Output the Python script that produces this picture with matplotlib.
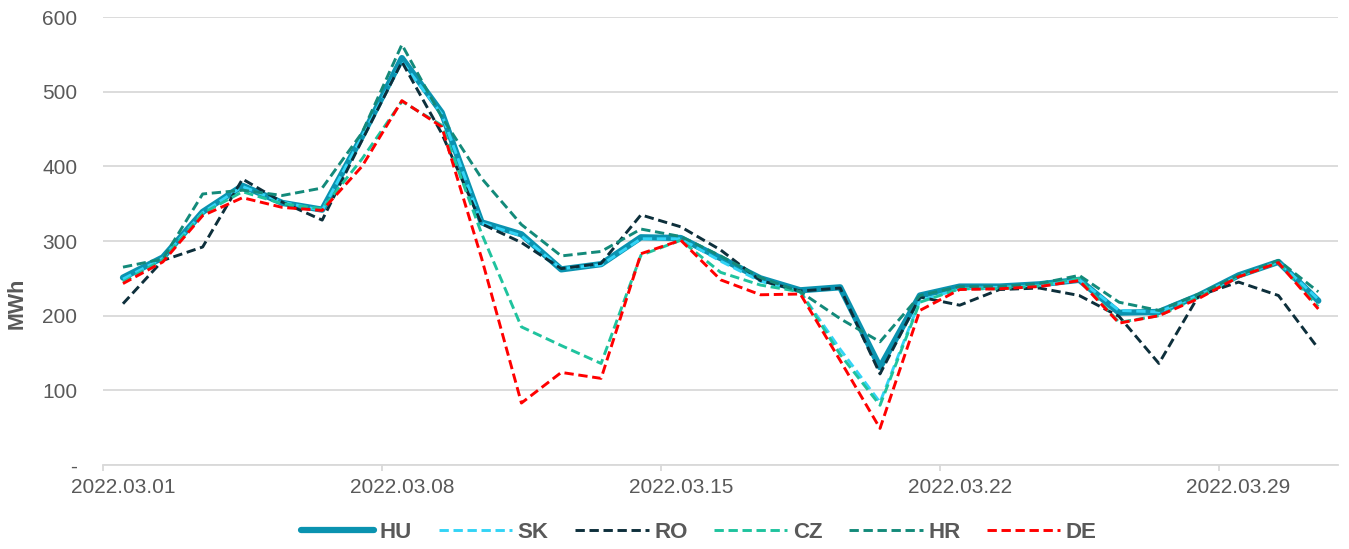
import matplotlib
matplotlib.use("Agg")
import matplotlib.pyplot as plt
import numpy as np

plt.rcParams['font.family'] = ['Liberation Sans', 'DejaVu Sans']

days = [f"2022.03.{d:02d}" for d in range(1, 32)]
tick_labels = ["2022.03.01", "2022.03.08", "2022.03.15", "2022.03.22", "2022.03.29"]

HU = [251, 278, 339, 374, 351, 342, 440, 545, 472, 325, 309, 262, 269, 305, 304, 277,
      250, 234, 238, 131, 227, 239, 239, 242, 248, 204, 205, 227, 254, 272, 220]
SK = [249, 277, 338, 373, 352, 341, 440, 540, 470, 324, 307, 263, 268, 303, 303, 273,
      246, 232, 155, 84, 220, 236, 238, 240, 248, 207, 205, 227, 253, 272, 222]
RO = [216, 274, 292, 383, 352, 328, 435, 540, 444, 323, 298, 263, 270, 335, 319, 288,
      247, 233, 237, 122, 225, 214, 235, 237, 227, 199, 136, 227, 245, 227, 156]
CZ = [245, 275, 337, 366, 350, 343, 410, 487, 455, 310, 185, 160, 136, 281, 301, 258,
      241, 232, 148, 80, 218, 236, 236, 240, 250, 191, 200, 225, 252, 271, 212]
HR = [265, 276, 363, 368, 361, 371, 445, 563, 466, 384, 322, 280, 286, 316, 306, 280,
      251, 232, 196, 165, 227, 239, 239, 243, 254, 218, 207, 229, 254, 274, 232]
DE = [243, 272, 334, 358, 345, 341, 400, 488, 453, 277, 83, 124, 116, 283, 301, 248,
      228, 229, 140, 49, 207, 235, 236, 239, 247, 190, 200, 223, 252, 271, 209]

series = [
    ("HU", HU, "#0A93B0", "-", 4.5),
    ("SK", SK, "#33D4F6", "--", 2.1),
    ("RO", RO, "#0D2F3B", "--", 2.1),
    ("CZ", CZ, "#1FC39E", "--", 2.1),
    ("HR", HR, "#138A7A", "--", 2.1),
    ("DE", DE, "#FF0000", "--", 2.1),
]

fig = plt.figure(figsize=(13.49, 5.49), dpi=100)
ax = fig.add_axes([0.0764, 0.153, 0.9156, 0.816])

x = np.arange(len(days)) + 0.5
for name, vals, col, ls, lw in series:
    if ls == "-":
        ax.plot(x, vals, color=col, lw=lw, ls=ls, label=name, solid_capstyle='round',
                solid_joinstyle='round', zorder=2)
    else:
        ax.plot(x, vals, color=col, lw=lw, ls=(0, (3.2, 1.6)), label=name,
                dash_capstyle='butt', zorder=3)

ax.set_xlim(0, len(days))
ax.set_ylim(0, 600)
ax.set_yticks(range(0, 601, 100))
ax.set_yticklabels(["-"] + [str(v) for v in range(100, 601, 100)])

idx = [days.index(t) for t in tick_labels]
ax.set_xticks(idx)
ax.set_xticklabels([""] * len(idx))
ax.set_xticks([i + 0.5 for i in idx], minor=True)
ax.set_xticklabels(tick_labels, minor=True)

ax.grid(axis='y', color='#D9D9D9', lw=1.3)
ax.set_axisbelow(True)
for s in ['top', 'right', 'left']:
    ax.spines[s].set_visible(False)
ax.spines['bottom'].set_color('#D9D9D9')
ax.spines['bottom'].set_linewidth(1.3)
ax.tick_params(axis='y', length=0, labelsize=15, labelcolor='#595959', pad=18.5)
ax.tick_params(axis='x', which='major', length=4.5, color='#D9D9D9', width=1.3)
ax.tick_params(axis='x', which='minor', length=0, labelsize=15,
               labelcolor='#595959', pad=9)

ax.set_ylabel("MWh", fontsize=15.5, fontweight='bold', color='#595959')
ax.yaxis.set_label_coords(-0.061, 0.36)

leg = fig.legend(handles=ax.get_lines(), loc='center', bbox_to_anchor=(0.518, 0.03),
                 ncol=6, frameon=False, handlelength=3.3, columnspacing=1.2,
                 handletextpad=0.25, prop={'weight': 'bold', 'size': 16})
for t in leg.get_texts():
    t.set_color('#595959')

fig.savefig("out.png", dpi=100)
